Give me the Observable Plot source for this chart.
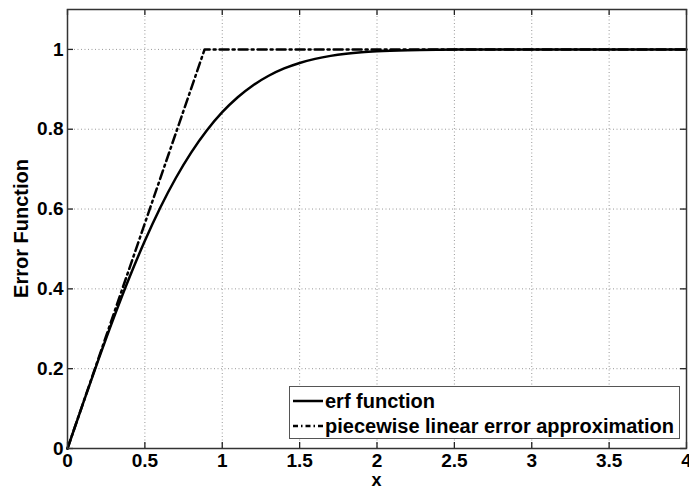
<!DOCTYPE html>
<html>
<head>
<meta charset="utf-8">
<script src="https://cdn.jsdelivr.net/npm/d3@7"></script>
<script src="https://cdn.jsdelivr.net/npm/@observablehq/plot@0.6"></script>
<style>
  body { margin: 0; background: #fff; }
  #wrap { position: relative; width: 689px; height: 489px; font-family: "Liberation Sans", Arial, sans-serif; }
  #legend { position: absolute; left: 289px; top: 386px; width: 391px; height: 53px; border: 1px solid #555; background: #fff; box-sizing: border-box; font-weight: bold; font-size: 20px; color: #000; }
  .row { position: absolute; left: 3px; height: 24px; display: flex; align-items: center; }
  .row svg { margin-right: 2px; }
</style>
</head>
<body>
<div id="wrap"></div>
<script>
// erf curve
const erfX = [0, 0.1, 0.2, 0.3, 0.4, 0.5, 0.6, 0.7, 0.8, 0.9, 1.0, 1.1, 1.2, 1.3, 1.4, 1.5, 1.6, 1.7, 1.8, 1.9, 2.0, 2.2, 2.4, 2.6, 2.8, 3.0, 3.5, 4.0];
const erfY = [0, 0.1125, 0.2227, 0.3286, 0.4284, 0.5205, 0.6039, 0.6778, 0.7421, 0.7969, 0.8427, 0.8802, 0.9103, 0.9340, 0.9523, 0.9661, 0.9763, 0.9838, 0.9891, 0.9928, 0.9953, 0.9981, 0.9993, 0.9998, 0.9999, 1.0, 1.0, 1.0];
// piecewise linear approximation
const pwX = [0, 0.886, 4];
const pwY = [0, 1, 1];
const xTicks = [0, 0.5, 1, 1.5, 2, 2.5, 3, 3.5, 4];
const xTickLabels = ["0", "0.5", "1", "1.5", "2", "2.5", "3", "3.5", "4"];
const yTicks = [0, 0.2, 0.4, 0.6, 0.8, 1];
const yTickLabels = ["0", "0.2", "0.4", "0.6", "0.8", "1"];
const seriesNames = ["erf function", "piecewise linear error approximation"];
const xLabel = "x";
const yLabel = "Error Function";

const erfData = erfX.map((x, i) => ({x, y: erfY[i]}));
const pwData = pwX.map((x, i) => ({x, y: pwY[i]}));
const dashDot = "9,4,2,4";
const font = "'Liberation Sans', Arial, sans-serif";

const W = 689, H = 489, mL = 67, mR = 3, mT = 9, mB = 41;
const plotW = W - mL - mR, plotH = H - mT - mB, tick = 6;
const tickStyle = {stroke: "#222", strokeWidth: 1.3};

const chart = Plot.plot({
  width: W,
  height: H,
  marginLeft: mL,
  marginRight: mR,
  marginTop: mT,
  marginBottom: mB,
  style: {fontFamily: font, fontWeight: "bold", color: "#000", background: "#fff"},
  x: {domain: [0, 4]},
  y: {domain: [0, 1.1]},
  marks: [
    Plot.gridX(xTicks, {stroke: "#999", strokeOpacity: 1, strokeDasharray: "1,2.5"}),
    Plot.gridY(yTicks, {stroke: "#999", strokeOpacity: 1, strokeDasharray: "1,2.5"}),
    // inward tick marks on all four sides
    Plot.ruleX(xTicks, {x: d => d, insetTop: plotH - tick, ...tickStyle}),
    Plot.ruleX(xTicks, {x: d => d, insetBottom: plotH - tick, ...tickStyle}),
    Plot.ruleY(yTicks, {y: d => d, insetRight: plotW - tick, ...tickStyle}),
    Plot.ruleY(yTicks, {y: d => d, insetLeft: plotW - tick, ...tickStyle}),
    Plot.axisX(xTicks, {anchor: "bottom", tickSize: 0, tickPadding: 5, fontSize: 19, fontWeight: "bold", fill: "#000", label: null, tickFormat: (d) => xTickLabels[xTicks.indexOf(d)]}),
    Plot.axisY(yTicks, {anchor: "left", tickSize: 0, tickPadding: 4, fontSize: 19, fontWeight: "bold", fill: "#000", label: null, tickFormat: (d) => yTickLabels[yTicks.indexOf(d)]}),
    Plot.line(pwData, {x: "x", y: "y", stroke: "#000", strokeWidth: 2.5, strokeDasharray: dashDot}),
    Plot.line(erfData, {x: "x", y: "y", stroke: "#000", strokeWidth: 2.5, curve: "monotone-x"}),
    Plot.frame({stroke: "#333", strokeWidth: 1.5})
  ]
});

// axis titles as text added into the svg
const svg = d3.select(chart);
svg.append("text")
  .attr("x", mL + plotW / 2).attr("y", 486)
  .attr("text-anchor", "middle")
  .attr("font-size", 18).attr("font-weight", "bold")
  .attr("font-family", font)
  .text(xLabel);
svg.append("text")
  .attr("transform", `translate(28,${mT + plotH / 2}) rotate(-90)`)
  .attr("text-anchor", "middle")
  .attr("font-size", 20).attr("font-weight", "bold")
  .attr("font-family", font)
  .text(yLabel);

const wrap = document.getElementById("wrap");
wrap.appendChild(chart);

const legend = document.createElement("div");
legend.id = "legend";
seriesNames.forEach((name, i) => {
  const row = document.createElement("div");
  row.className = "row";
  row.style.top = (i === 0 ? 2 : 27) + "px";
  const dash = i === 0 ? "" : `stroke-dasharray="5,3,1.5,3"`;
  row.innerHTML = `<svg width="30" height="10"><line x1="0" y1="5" x2="30" y2="5" stroke="#000" stroke-width="2.5" ${dash}/></svg><span>${name}</span>`;
  legend.appendChild(row);
});
wrap.appendChild(legend);
</script>
</body>
</html>
